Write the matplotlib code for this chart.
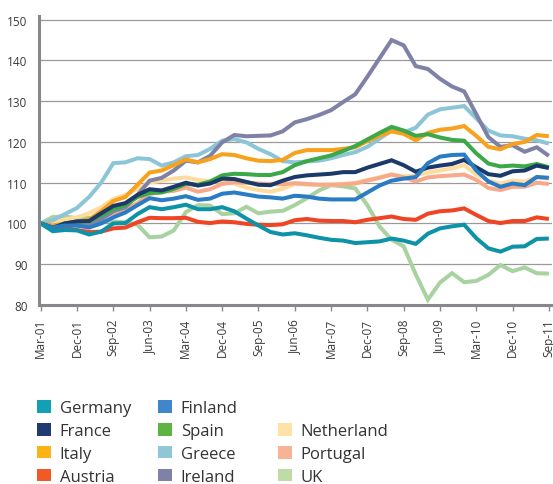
import numpy as np
import matplotlib
matplotlib.use('Agg')
import matplotlib.pyplot as plt
from matplotlib.patches import Patch

plt.rcParams['font.family'] = ['Open Sans', 'DejaVu Sans']

# quarterly index values, Mar-01 = 100
quarters = ['Mar-01', 'Jun-01', 'Sep-01', 'Dec-01', 'Mar-02', 'Jun-02', 'Sep-02', 'Dec-02',
            'Mar-03', 'Jun-03', 'Sep-03', 'Dec-03', 'Mar-04', 'Jun-04', 'Sep-04', 'Dec-04',
            'Mar-05', 'Jun-05', 'Sep-05', 'Dec-05', 'Mar-06', 'Jun-06', 'Sep-06', 'Dec-06',
            'Mar-07', 'Jun-07', 'Sep-07', 'Dec-07', 'Mar-08', 'Jun-08', 'Sep-08', 'Dec-08',
            'Mar-09', 'Jun-09', 'Sep-09', 'Dec-09', 'Mar-10', 'Jun-10', 'Sep-10', 'Dec-10',
            'Mar-11', 'Jun-11', 'Sep-11']

germany = [100, 98.1, 98.4, 98.3, 97.3, 98.0, 100.0, 100.1, 102.3, 104.0, 103.5, 104.0, 104.6,
           103.5, 103.5, 104.0, 103.0, 101.2, 99.5, 97.9, 97.3, 97.6, 97.1, 96.5, 96.0, 95.8,
           95.2, 95.4, 95.6, 96.3, 95.8, 95.0, 97.5, 98.8, 99.3, 99.7, 96.4, 93.9, 93.1, 94.3,
           94.4, 96.2, 96.3]
france = [100, 98.9, 100.0, 100.5, 100.6, 102.5, 104.3, 105.0, 107.0, 108.4, 108.1, 109.0, 110.0,
          109.3, 109.8, 111.0, 110.9, 110.2, 109.5, 109.4, 110.5, 111.4, 111.8, 112.0, 112.2,
          112.6, 112.6, 113.7, 114.6, 115.5, 114.3, 112.7, 113.7, 114.2, 114.6, 115.6, 113.8,
          112.1, 111.7, 112.8, 113.0, 114.2, 113.6]
italy = [100, 99.5, 100.0, 100.5, 101.0, 103.0, 105.5, 106.5, 109.5, 112.5, 113.0, 114.3, 115.7,
         115.0, 115.8, 117.0, 116.8, 116.0, 115.4, 115.3, 115.6, 117.3, 118.0, 118.0, 118.0,
         118.3, 118.7, 120.2, 121.5, 122.6, 122.0, 120.4, 122.2, 123.0, 123.3, 123.9, 121.5,
         118.8, 118.2, 119.5, 120.0, 121.7, 121.4]
austria = [100, 99.0, 98.9, 98.4, 97.9, 98.0, 98.8, 99.0, 100.3, 101.4, 101.3, 101.3, 101.4,
           100.4, 100.1, 100.5, 100.3, 99.9, 99.7, 99.6, 99.8, 100.8, 101.1, 100.7, 100.6, 100.6,
           100.3, 100.9, 101.3, 101.7, 101.1, 100.9, 102.4, 103.0, 103.2, 103.7, 102.1, 100.6,
           100.1, 100.6, 100.6, 101.5, 101.1]
finland = [100, 99.0, 99.5, 99.5, 99.0, 100.0, 101.5, 102.7, 104.5, 106.2, 105.7, 106.1, 106.7,
           105.8, 106.1, 107.3, 107.6, 107.1, 106.6, 106.4, 106.1, 106.8, 106.6, 106.1, 105.9,
           105.9, 105.9, 107.6, 109.3, 110.5, 111.0, 111.4, 114.8, 116.4, 116.8, 116.9, 113.0,
           110.3, 109.0, 109.8, 109.4, 111.4, 111.2]
spain = [100, 99.0, 100.0, 100.5, 100.5, 102.0, 103.5, 104.5, 106.5, 107.5, 107.6, 108.5, 109.7,
         109.5, 110.3, 111.8, 112.2, 112.1, 111.9, 111.9, 112.6, 114.3, 115.3, 116.0, 116.7,
         117.8, 119.0, 120.6, 122.2, 123.7, 122.8, 121.5, 121.9, 121.1, 120.5, 120.3, 117.2,
         114.7, 114.0, 114.2, 114.0, 114.6, 113.8]
greece = [100, 100.8, 102.3, 103.8, 106.5, 110.0, 114.8, 115.0, 116.0, 115.8, 114.2, 115.0, 116.5,
          116.8, 118.3, 120.3, 120.7, 119.9, 118.3, 117.0, 115.3, 115.0, 115.2, 115.4, 116.0,
          116.8, 117.5, 118.8, 120.8, 122.8, 122.3, 123.5, 126.7, 128.0, 128.4, 128.8, 125.8,
          122.8, 121.6, 121.4, 120.8, 120.4, 119.6]
ireland = [100, 99.0, 100.0, 99.5, 99.5, 101.0, 103.0, 104.0, 107.0, 110.5, 111.2, 113.0, 115.4,
           115.0, 116.6, 119.9, 121.7, 121.4, 121.5, 121.6, 122.6, 124.8, 125.6, 126.6, 127.8,
           129.8, 131.7, 136.0, 140.5, 145.0, 143.7, 138.6, 137.9, 135.5, 133.6, 132.4, 126.8,
           121.2, 118.8, 119.2, 117.6, 118.7, 116.6]
netherland = [100, 100.0, 101.0, 101.5, 102.5, 104.0, 106.0, 107.0, 108.5, 110.0, 110.5, 111.0,
              111.3, 110.7, 110.3, 110.3, 109.8, 108.8, 108.2, 107.8, 108.5, 109.7, 109.5, 109.5,
              109.5, 109.7, 110.0, 110.7, 111.3, 112.0, 111.5, 111.8, 112.5, 113.0, 113.5, 114.3,
              112.0, 110.5, 109.8, 110.5, 110.2, 111.4, 111.0]
portugal = [100, 99.0, 99.5, 100.0, 100.0, 101.5, 102.5, 103.5, 105.0, 107.2, 107.8, 108.0, 108.8,
            107.8, 108.4, 109.7, 110.1, 110.0, 109.8, 109.7, 109.6, 109.9, 109.7, 109.5, 109.5,
            109.6, 109.8, 110.5, 111.2, 112.0, 111.3, 110.3, 111.3, 111.6, 111.8, 112.0, 110.7,
            108.7, 108.2, 109.0, 109.0, 110.0, 109.7]
uk = [100, 101.6, 101.7, 101.3, 101.4, 100.6, 100.5, 100.3, 99.7, 96.6, 96.8, 98.3, 102.8, 104.5,
      104.4, 102.3, 102.5, 104.1, 102.5, 102.9, 103.1, 104.5, 106.2, 108.1, 109.4, 109.1, 108.6,
      104.5, 99.3, 96.0, 94.4, 87.5, 81.3, 85.5, 87.8, 85.6, 85.9, 87.4, 89.8, 88.3, 89.2, 87.8,
      87.7]

# drawing order: bottom first
series = [
    ('UK', uk, '#a8d3a0'),
    ('Netherland', netherland, '#fddc9e'),
    ('Portugal', portugal, '#f6a98b'),
    ('Greece', greece, '#8cc5d8'),
    ('Ireland', ireland, '#7f82a6'),
    ('Italy', italy, '#f8a11c'),
    ('Spain', spain, '#3ca847'),
    ('Austria', austria, '#ef4524'),
    ('France', france, '#1c3a69'),
    ('Finland', finland, '#2a7cc4'),
    ('Germany', germany, '#0e92a7'),
]

legend_cols = [
    [('Germany', '#12a0b4'), ('France', '#223a72'), ('Italy', '#fbb316'), ('Austria', '#f15a22')],
    [('Finland', '#3f87c8'), ('Spain', '#5db442'), ('Greece', '#90c6d6'), ('Ireland', '#7f82a6')],
    [('Netherland', '#fee2a6'), ('Portugal', '#f8b393'), ('UK', '#bfdca6')],
]

W, H = 553, 485
fig = plt.figure(figsize=(W / 100, H / 100), dpi=100)
ax = fig.add_axes([38.5 / W, 1 - 306 / H, (552 - 38.5) / W, (306 - 16.6) / H])

x = np.arange(len(quarters))
for name, vals, col in series:
    ax.plot(x, vals, color=col, lw=2.9, solid_joinstyle='miter', solid_capstyle='butt')

ax.set_xlim(-0.18, 42.26)
ax.set_ylim(80, 151)
ax.set_yticks(range(80, 151, 10))
ax.set_xticks(x[::3])
ax.set_xticklabels(quarters[::3], rotation=90, fontsize=8.5, color='#3a3a3a')
ax.tick_params(axis='y', length=0, pad=8, labelsize=8.5, labelcolor='#3a3a3a')
ax.tick_params(axis='x', length=4.3, width=1.0, color='#88888c', pad=5)
ax.grid(axis='y', color='#9a9a9a', lw=0.9)
ax.set_axisbelow(True)
for s in ['top', 'right']:
    ax.spines[s].set_visible(False)
for s in ['left', 'bottom']:
    ax.spines[s].set_color('#88888c')
    ax.spines[s].set_linewidth(2.2)

# legend: three separate columns
col_x = [37.3, 158.3, 278.3]
col_cy = [443.4, 443.4, 454.9]
for cx, cy, items in zip(col_x, col_cy, legend_cols):
    handles = [Patch(facecolor=c, edgecolor='none') for _, c in items]
    labels = [n for n, _ in items]
    fig.legend(handles, labels, loc='center left', bbox_to_anchor=(cx / W, 1 - cy / H),
               frameon=False, fontsize=12, borderpad=0, borderaxespad=0,
               handlelength=0.8, handleheight=0.8, handletextpad=0.55,
               labelspacing=0.4, labelcolor='#333333')

fig.savefig('out.png', dpi=100)
